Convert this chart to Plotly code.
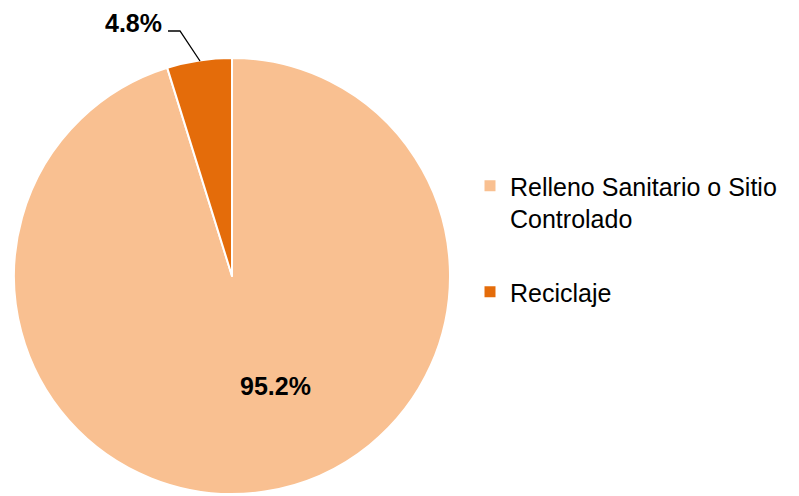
import plotly.graph_objects as go

labels = ["Relleno Sanitario o Sitio<br>Controlado", "Reciclaje"]
values = [95.2, 4.8]
colors = ["#F9C091", "#E46C0A"]

W, H = 799, 496
FONT = "Liberation Sans, Arial, sans-serif"


def px(x, y):
    # pixel position -> paper coordinates
    return x / W, 1 - y / H


fig = go.Figure(go.Pie(
    labels=labels, values=values, sort=False, direction="clockwise",
    rotation=0, textinfo="none", hoverinfo="label+percent", showlegend=False,
    marker=dict(colors=colors, line=dict(color="white", width=2)),
    domain=dict(x=[14 / W, 450 / W], y=[1 - 494 / H, 1 - 58 / H]),
))

# legend entries as empty square-marker traces so the gap between them can be set
for i, (lab, col) in enumerate(zip(labels, colors)):
    fig.add_trace(go.Scatter(
        x=[None], y=[None], mode="markers", name=lab, legendgroup=f"g{i}",
        marker=dict(symbol="square", size=11, color=col),
    ))

total = sum(values)
pct = [f"{v / total:.1%}" for v in values]

label_pos = [px(275, 386), px(133, 23)]
for text, (lx, ly) in zip(pct, label_pos):
    fig.add_annotation(x=lx, y=ly, xref="paper", yref="paper", text=f"<b>{text}</b>",
                       xanchor="center", yanchor="middle", showarrow=False,
                       font=dict(family=FONT, size=25, color="black"))

# leader line for the small slice
a, b, c = px(168, 31), px(180, 31), px(200, 61)
fig.add_shape(type="path", xref="paper", yref="paper",
              path=f"M{a[0]},{a[1]} L{b[0]},{b[1]} L{c[0]},{c[1]}",
              line=dict(color="black", width=1.3))

fig.update_xaxes(visible=False)
fig.update_yaxes(visible=False)
fig.update_layout(
    width=W, height=H,
    margin=dict(l=0, r=0, t=0, b=0),
    paper_bgcolor="white", plot_bgcolor="white",
    showlegend=True,
    legend=dict(x=470 / W, y=1 - 163 / H, xanchor="left", yanchor="top",
                valign="top", itemwidth=30, tracegroupgap=38,
                font=dict(family=FONT, size=25, color="black")),
)

fig.write_html("out.html", config={"displayModeBar": False},
               post_script="document.body.style.margin='0';")
